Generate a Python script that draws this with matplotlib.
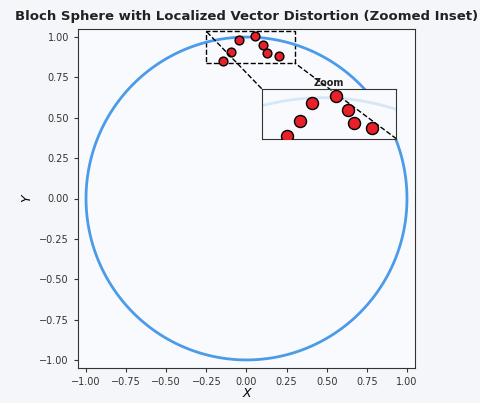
import numpy as np
import matplotlib
matplotlib.use("Agg")
import matplotlib.pyplot as plt
from mpl_toolkits.axes_grid1.inset_locator import mark_inset

# data
px = [-0.147, -0.095, -0.045, 0.052, 0.101, 0.126, 0.200]
py = [0.851, 0.909, 0.981, 1.006, 0.952, 0.902, 0.882]

theta = np.linspace(0, 2 * np.pi, 400)
cx = np.cos(theta)
cy = np.sin(theta)

fig = plt.figure(figsize=(4.81, 4.03), dpi=100, facecolor="#f4f6fa")
ax = fig.add_axes([78 / 481, 1 - 368 / 403, 337 / 481, 339 / 403])
ax.set_facecolor("#f9fafd")

ax.plot(cx, cy, color="#4c9be8", lw=2, solid_capstyle="butt")
ax.scatter(px, py, s=40, color="#e8202a", edgecolor="black", linewidth=1, zorder=3)

ax.set_xlim(-1.05, 1.05)
ax.set_ylim(-1.05, 1.05)
ax.set_xticks(np.arange(-1, 1.01, 0.25))
ax.set_yticks(np.arange(-1, 1.01, 0.25))
ax.tick_params(labelsize=7, colors="#333333", length=3)
for s in ax.spines.values():
    s.set_color("#333333")
ax.set_xlabel("X", fontsize=9, style="italic", labelpad=0)
ax.set_ylabel("Y", fontsize=9, style="italic", labelpad=4)
fig.suptitle("Bloch Sphere with Localized Vector Distortion (Zoomed Inset)",
             fontsize=9.5, fontweight="bold", color="#222222", x=0.512, y=0.975)

# inset
axins = ax.inset_axes([0.545, 0.676, 0.40, 0.148])
axins.set_facecolor("#f9fafd")
axins.plot(cx, cy, color="#4c9be8", lw=2, alpha=0.2)
axins.scatter(px, py, s=75, color="#e8202a", edgecolor="black", linewidth=1, zorder=3)
axins.set_xlim(-0.25, 0.30)
axins.set_ylim(0.84, 1.035)
axins.set_xticks([])
axins.set_yticks([])
for s in axins.spines.values():
    s.set_color("#333333")
axins.set_title("Zoom", fontsize=7, fontweight="bold", color="#222222", pad=2)

_, c1, c2 = mark_inset(ax, axins, loc1=2, loc2=4, fc="none", ec="black", ls="--", lw=1)

fig.savefig("out.png", dpi=100, facecolor=fig.get_facecolor())
